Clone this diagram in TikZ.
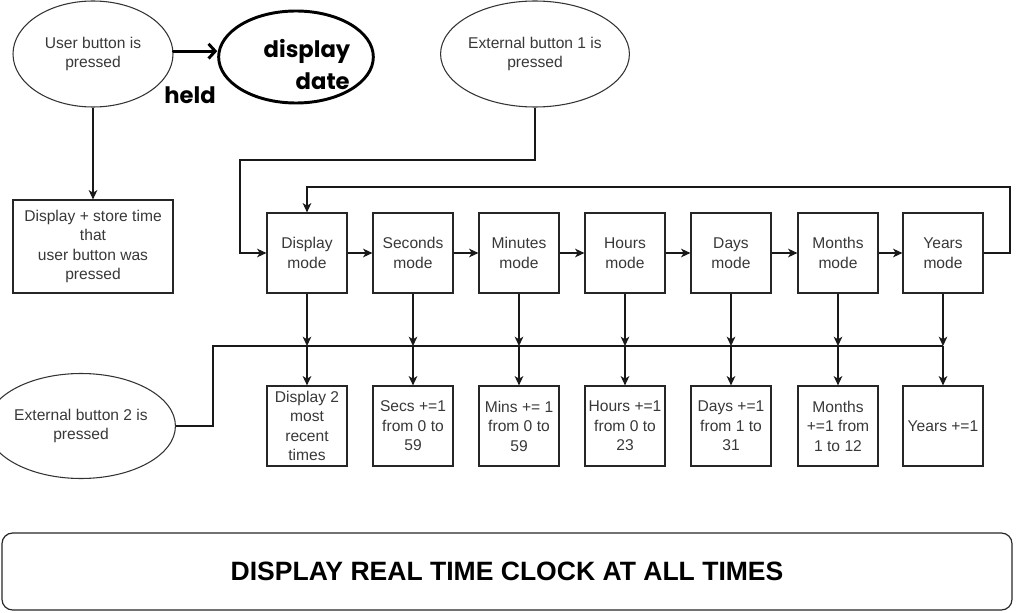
\documentclass[tikz,border=0pt]{standalone}
\usepackage{fontspec}
\setmainfont{Liberation Sans}
\newfontfamily\handfont{Poppins}
\usetikzlibrary{shapes.geometric,arrows.meta}
\begin{document}
\begin{tikzpicture}[x=0.75pt,y=-0.75pt,
  txt/.style={text=black!78, font=\fontsize{11.7}{14.6}\selectfont, align=center},
  box/.style={draw=black!85, line width=0.9pt, txt, minimum width=60pt, minimum height=60pt, inner sep=0pt},
  oval/.style={ellipse, draw=black!80, line width=0.8pt, txt, inner sep=0pt},
  conn/.style={draw=black!90, line width=0.9pt, -{Stealth[length=7pt,width=6.5pt,inset=2pt]}},
  plain/.style={draw=black!90, line width=0.9pt},
  hand/.style={font=\handfont\bfseries\fontsize{17}{24}\selectfont, align=left, inner sep=0pt},
]
\useasboundingbox (0,0) rectangle (1024,613);

% top-left
\node[oval, minimum width=120pt, minimum height=79.5pt] (ub) at (93,54) {User button is\\pressed};
\node[ellipse, draw=black, line width=2.2pt, minimum width=116pt, minimum height=69pt, inner sep=0pt] (dd) at (296,57) {};
\node[hand] (ddt) at (307,65) {display\\\hspace*{24pt}date};
\node[hand] (held) at (190,95) {held};
\draw[line width=2.2pt, line cap=round, -{Straight Barb[length=5pt,width=11pt]}] (ub.2) -- (ub.2 -| dd.west);

\node[box, minimum width=120pt, minimum height=69.75pt] (st) at (93,246.5) {Display + store time\\that\\user button was\\pressed};
\draw[conn] (ub.south) -- (st.north);

% external button 1
\node[oval, minimum width=107.25pt, minimum height=79.5pt] (e1) at (535,54) {External button 1 is\\pressed};

% mode row
\node[box] (dm) at (307,253) {Display\\mode};
\node[box] (sm) at (413,253) {Seconds\\mode};
\node[box] (mm) at (519,253) {Minutes\\mode};
\node[box] (hm) at (625,253) {Hours\\mode};
\node[box] (am) at (731,253) {Days\\mode};
\node[box] (om) at (838,253) {Months\\mode};
\node[box] (ym) at (943,253) {Years\\mode};

\draw[conn] (dm) -- (sm);
\draw[conn] (sm) -- (mm);
\draw[conn] (mm) -- (hm);
\draw[conn] (hm) -- (am);
\draw[conn] (am) -- (om);
\draw[conn] (om) -- (ym);

\draw[conn] (e1.south) |- (240,160) |- (dm.west);
\draw[conn] (ym.east) -| (1010,187) -| (dm.north);

% result row
\node[box] (r1) at (307,426) {Display 2\\most\\recent\\times};
\node[box] (r2) at (413,426) {Secs +=1\\from 0 to\\59};
\node[box] (r3) at (519,426) {Mins += 1\\from 0 to\\59};
\node[box] (r4) at (625,426) {Hours +=1\\from 0 to\\23};
\node[box] (r5) at (731,426) {Days +=1\\from 1 to\\31};
\node[box] (r6) at (838,426) {Months\\+=1 from\\1 to 12};
\node[box] (r7) at (943,426) {Years +=1};

% external button 2 and bus
\node[oval, minimum width=118.5pt, minimum height=78.75pt] (e2) at (81,426) {External button 2 is\\pressed};
\coordinate (b1) at (307,346);
\coordinate (b2) at (413,346);
\coordinate (b3) at (519,346);
\coordinate (b4) at (625,346);
\coordinate (b5) at (731,346);
\coordinate (b6) at (838,346);
\coordinate (b7) at (943,346);
\draw[plain] (e2.east) -| (213,346) -- (b7);

\foreach \m/\b/\r in {dm/b1/r1, sm/b2/r2, mm/b3/r3, hm/b4/r4, am/b5/r5, om/b6/r6, ym/b7/r7}{
  \draw[conn] (\m.south) -- (\b);
  \draw[conn] (\b) -- (\r.north);
}

% bottom banner
\node[draw=black!85, line width=0.9pt, rounded corners=8pt, minimum width=757.5pt, minimum height=57.75pt, font=\bfseries\fontsize{19.9}{24}\selectfont] (rtc) at (507,571.5) {DISPLAY REAL TIME CLOCK AT ALL TIMES};
\end{tikzpicture}
\end{document}
